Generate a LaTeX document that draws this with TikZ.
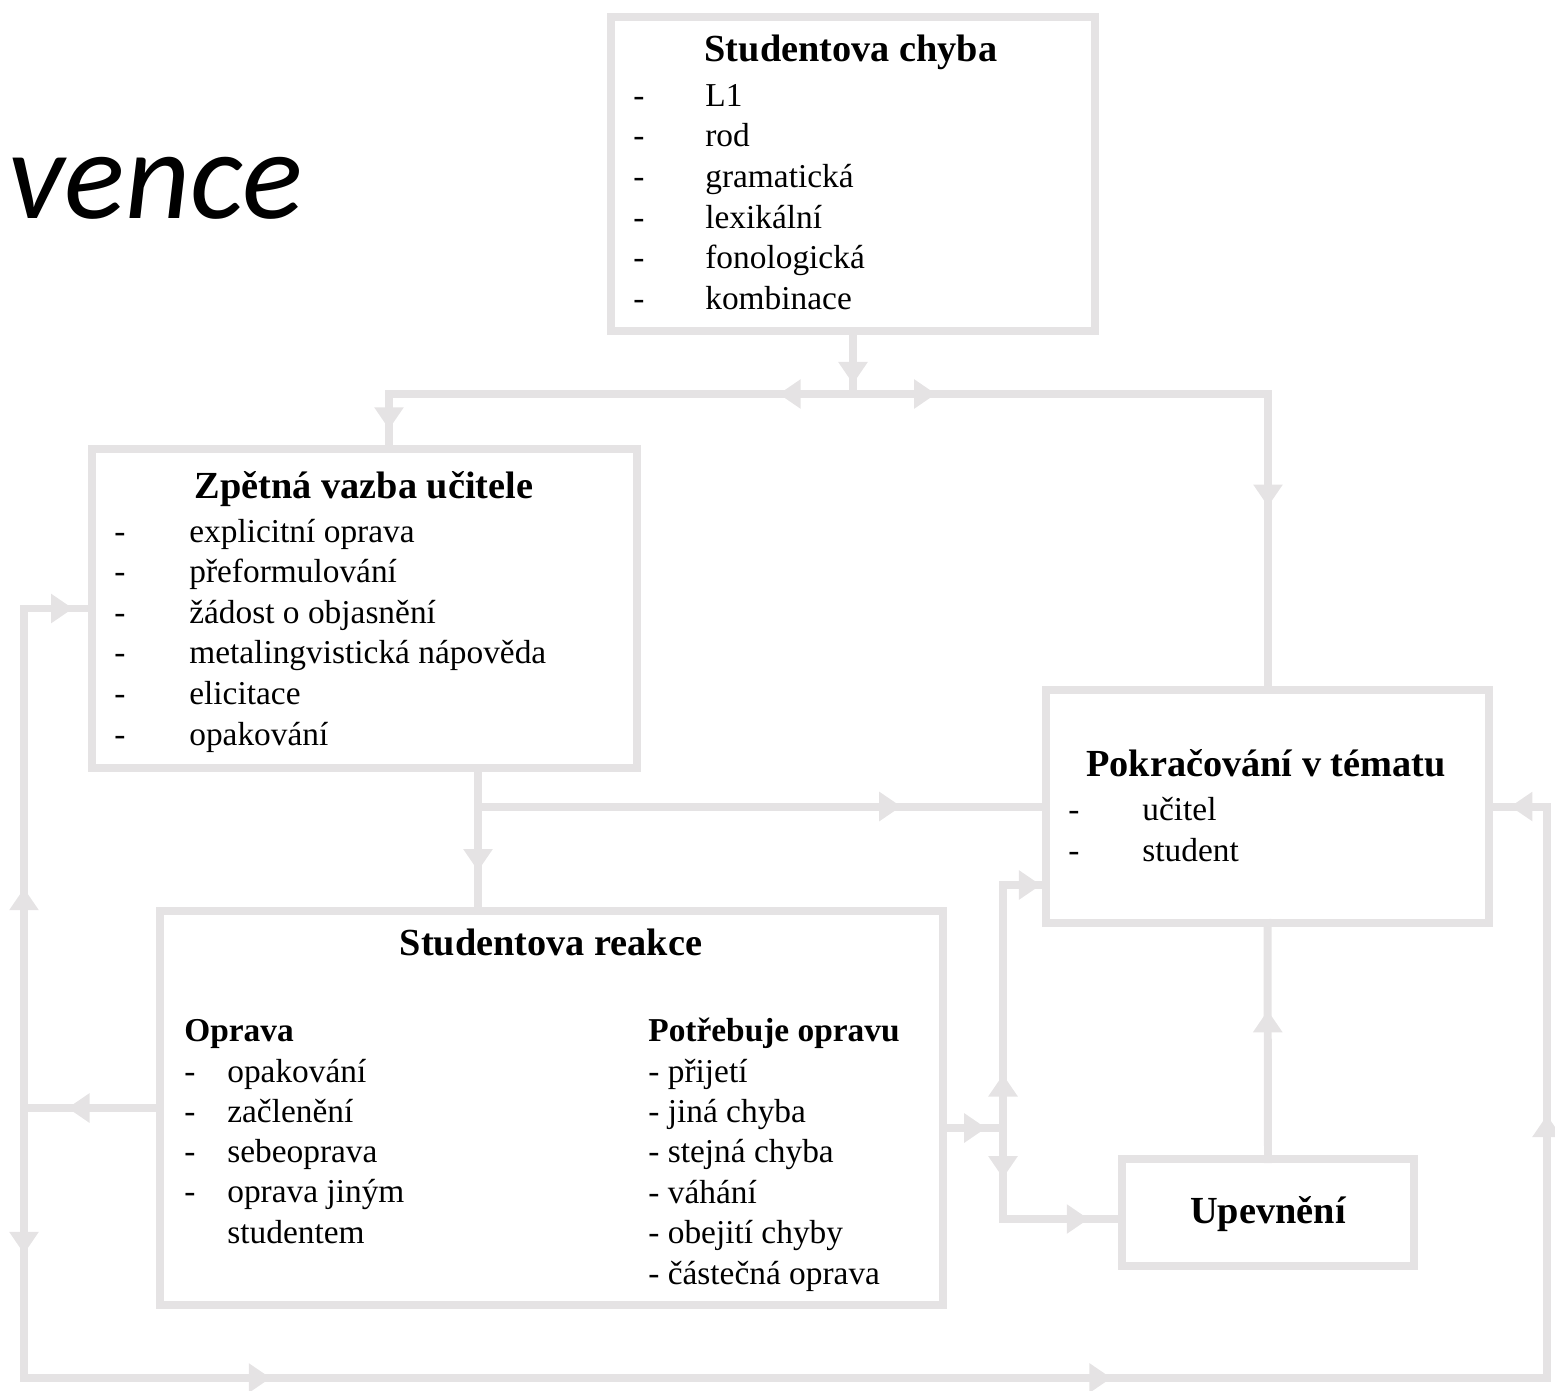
\documentclass[tikz,border=0pt]{standalone}
\usepackage{fontspec}
\setmainfont{Liberation Serif}
\newfontfamily\handfont{Carlito}
\usetikzlibrary{arrows.meta,decorations.markings}
\definecolor{lg}{RGB}{229,227,228}
\tikzset{
  conn/.style={draw=lg, line width=4.54pt, line cap=rect},
  box/.style={draw=lg, line width=4.54pt, rectangle, inner sep=0pt, outer sep=0pt},
  tiplg/.style={},
  ar/.style={postaction={decorate, decoration={markings,
     mark=at position #1 with {\arrow{Triangle[length=12.5pt,width=16pt,color=lg]}}}}},
  artwo/.style 2 args={postaction={decorate, decoration={markings,
     mark=at position #1 with {\arrow{Triangle[length=12.5pt,width=16pt,color=lg]}},
     mark=at position #2 with {\arrow{Triangle[length=12.5pt,width=16pt,color=lg]}}}}},
  hd/.style={anchor=base, inner sep=0pt, font=\bfseries\fontsize{21.8}{26}\selectfont},
  sub/.style={anchor=base west, inner sep=0pt, font=\bfseries\fontsize{19}{23}\selectfont},
  itm/.style={anchor=base west, inner sep=0pt, font=\fontsize{19}{23}\selectfont},
}
\begin{document}
\begin{tikzpicture}[x=0.02cm, y=-0.02cm]
\useasboundingbox (0,0) rectangle (1555,1390);
\clip (0,0) rectangle (1555,1390);

% boxes
\node[box, minimum width=9.68cm, minimum height=6.28cm] (b1) at (853,174) {};
\node[box, minimum width=10.9cm, minimum height=6.38cm] (b2) at (364.5,608.5) {};
\node[box, minimum width=8.86cm, minimum height=4.66cm] (b3) at (1267.5,806.5) {};
\node[box, minimum width=15.66cm, minimum height=7.88cm] (b4) at (551.5,1108) {};
\node[box, minimum width=5.84cm, minimum height=2.14cm] (b5) at (1268,1212.5) {};

% junction coordinates
\coordinate (jT) at (853,394);
\coordinate (jL) at (389,394);
\coordinate (jR) at (1268,394);
\coordinate (jZ) at (478,806.5);
\coordinate (lA) at (24,608.5);
\coordinate (lB) at (24,1108);
\coordinate (lC) at (24,1378);
\coordinate (rC) at (1547,1378);
\coordinate (rA) at (1547,806.5);
\coordinate (m1) at (1003,1128);
\coordinate (m2) at (1003,885);
\coordinate (m3) at (1003,1219);

% connectors
\draw[conn, ar=0.84] (b1.south) -- (jT);
\draw[conn, ar=0.16] (jT) -- (jL);
\draw[conn, ar=0.64] (jL) -- (jL |- b2.north);
\draw[conn, ar=0.2] (jT) -- (jR);
\draw[conn, ar=0.38] (jR) -- (jR |- b3.north);
\draw[conn, ar=0.72] (jZ |- b2.south) -- (jZ |- b4.north);
\draw[conn, ar=0.745] (jZ) -- (b3.west);
\draw[conn, ar=0.68] (b4.west) -- (lB);
\draw[conn, ar=0.44] (lB) -- (lA);
\draw[conn, ar=0.72] (lA) -- (b2.west);
\draw[conn, ar=0.54] (lB) -- (lC);
\draw[conn, artwo={0.162}{0.714}] (lC) -- (rC);
\draw[conn, ar=0.46] (rC) -- (rA);
\draw[conn, ar=0.63] (rA) -- (b3.east);
\draw[conn, ar=0.72] (m1 -| b4.east) -- (m1);
\draw[conn, ar=0.22] (m1) -- (m2);
\draw[conn, ar=0.88] (m2) -- (m2 -| b3.west);
\draw[conn, ar=0.55] (m1) -- (m3);
\draw[conn, ar=0.72] (m3) -- (m3 -| b5.west);
\draw[conn, ar=0.63] (b5.north) -- (b3.south);

% title fragment
\node[anchor=base west, inner sep=0pt, font=\handfont\itshape\fontsize{72}{80}\selectfont] (ttl) at (8,218) {vence};

% headings
\node[hd] (h1) at (851,61) {Studentova chyba};
\node[hd] (h2) at (364,498) {Zpětná vazba učitele};
\node[hd] (h3) at (1266,776) {Pokračování v tématu};
\node[hd] (h4) at (551,955) {Studentova reakce};
\node[hd] (h5) at (1268,1223) {Upevnění};

% lists
\foreach \t [count=\i from 0] in {L1,rod,gramatická,lexikální,fonologická,kombinace} {
  \node[itm] (ad\i) at (633,{106+40.7*\i}) {-};
  \node[itm] (a\i) at (705,{106+40.7*\i}) {\t};
}
\foreach \t [count=\i from 0] in {explicitní oprava,přeformulování,žádost o objasnění,metalingvistická nápověda,elicitace,opakování} {
  \node[itm] (bd\i) at (114,{542+40.6*\i}) {-};
  \node[itm] (bt\i) at (189,{542+40.6*\i}) {\t};
}
\foreach \t [count=\i from 0] in {učitel,student} {
  \node[itm] (cd\i) at (1068,{820+41*\i}) {-};
  \node[itm] (ct\i) at (1142,{820+41*\i}) {\t};
}
\node[sub] (o0) at (184,1041) {Oprava};
\foreach \t [count=\i from 0] in {opakování,začlenění,sebeoprava,oprava jiným} {
  \node[itm] (od\i) at (184,{1082+40.3*\i}) {-};
  \node[itm] (ot\i) at (227,{1082+40.3*\i}) {\t};
}
\node[itm] (ot4) at (227,1243) {studentem};
\node[sub] (p0) at (648,1041) {Potřebuje opravu};
\foreach \t [count=\i from 0] in {- přijetí,- jiná chyba,- stejná chyba,- váhání,- obejití chyby,- částečná oprava} {
  \node[itm] (pt\i) at (648,{1082+40.4*\i}) {\t};
}
\end{tikzpicture}
\end{document}
